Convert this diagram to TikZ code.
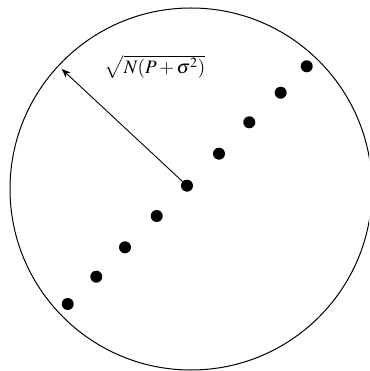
\documentclass[tikz,border=0pt]{standalone}
\usepackage{mathptmx}
\usetikzlibrary{arrows.meta}
\begin{document}
\begin{tikzpicture}[x=1pt,y=-1pt,
  dot/.style={circle,fill=black,inner sep=0pt,minimum size=12pt},
  radius line/.style={line width=0.9pt,-{Stealth[length=9pt,width=7pt]}}]
\useasboundingbox (0,0) rectangle (369,371);
\clip (0,0) rectangle (369,371);
\draw[line width=1pt] (191,189) circle[radius=181];
\node[dot] (d1) at (67.7,304) {};
\node[dot] (d2) at (96.3,276.7) {};
\node[dot] (d3) at (125,247.3) {};
\node[dot] (d4) at (156.7,216) {};
\node[dot] (c) at (187,185.7) {};
\node[dot] (d6) at (219,153.7) {};
\node[dot] (d7) at (249.3,122.3) {};
\node[dot] (d8) at (280.7,92.7) {};
\node[dot] (d9) at (306.7,66.3) {};
\coordinate (edge) at (61.7,69);
\draw[radius line] (c.center) -- (edge);
\node[font=\fontsize{19}{22}\selectfont] (lbl) at (155,67) {$\sqrt{N(P+\sigma^2)}$};
\end{tikzpicture}
\end{document}
